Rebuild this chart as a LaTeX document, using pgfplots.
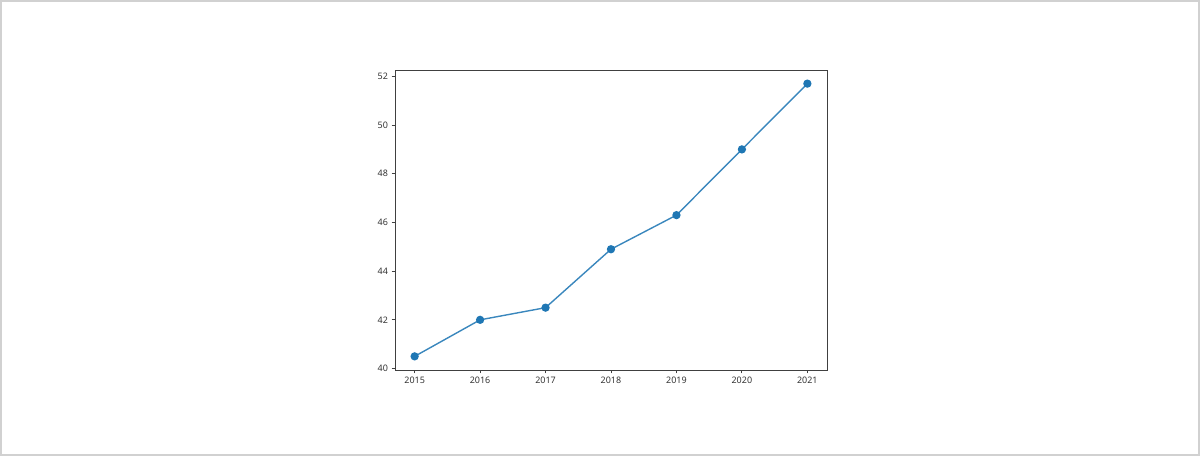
\documentclass[border=0pt]{standalone}
\usepackage{fontspec}
\setmainfont{Noto Sans}
\usepackage{pgfplots}
\pgfplotsset{compat=1.18}
\definecolor{mplblue}{HTML}{1F77B4}
\definecolor{txt}{HTML}{333333}
\begin{document}
\begin{tikzpicture}
\draw[draw=black!18, line width=2bp] (1bp,1bp) rectangle (1199bp,455bp);
\begin{axis}[
  at={(395bp,86bp)}, anchor=south west,
  scale only axis, width=432bp, height=300bp,
  xmin=2014.7, xmax=2021.3, ymin=39.94, ymax=52.26,
  xtick={2015,...,2021}, ytick={40,42,...,52},
  xticklabel style={/pgf/number format/1000 sep={}},
  /pgf/number format/assume math mode=true,
  tick label style={font=\fontsize{9}{10}\selectfont, text=txt},
  tick align=outside, xtick pos=bottom, ytick pos=left,
  major tick length=3.5bp,
  every tick/.style={black!75, line width=0.8bp},
  axis line style={black!75, line width=0.8bp},
]
\addplot[mplblue!88!white, line width=1.4bp, mark=*, mark size=3.4bp, mark options={draw=mplblue, fill=mplblue}]
coordinates {(2015,40.5) (2016,42.0) (2017,42.5) (2018,44.9) (2019,46.3) (2020,49.0) (2021,51.7)};
\end{axis}
\end{tikzpicture}
\end{document}
